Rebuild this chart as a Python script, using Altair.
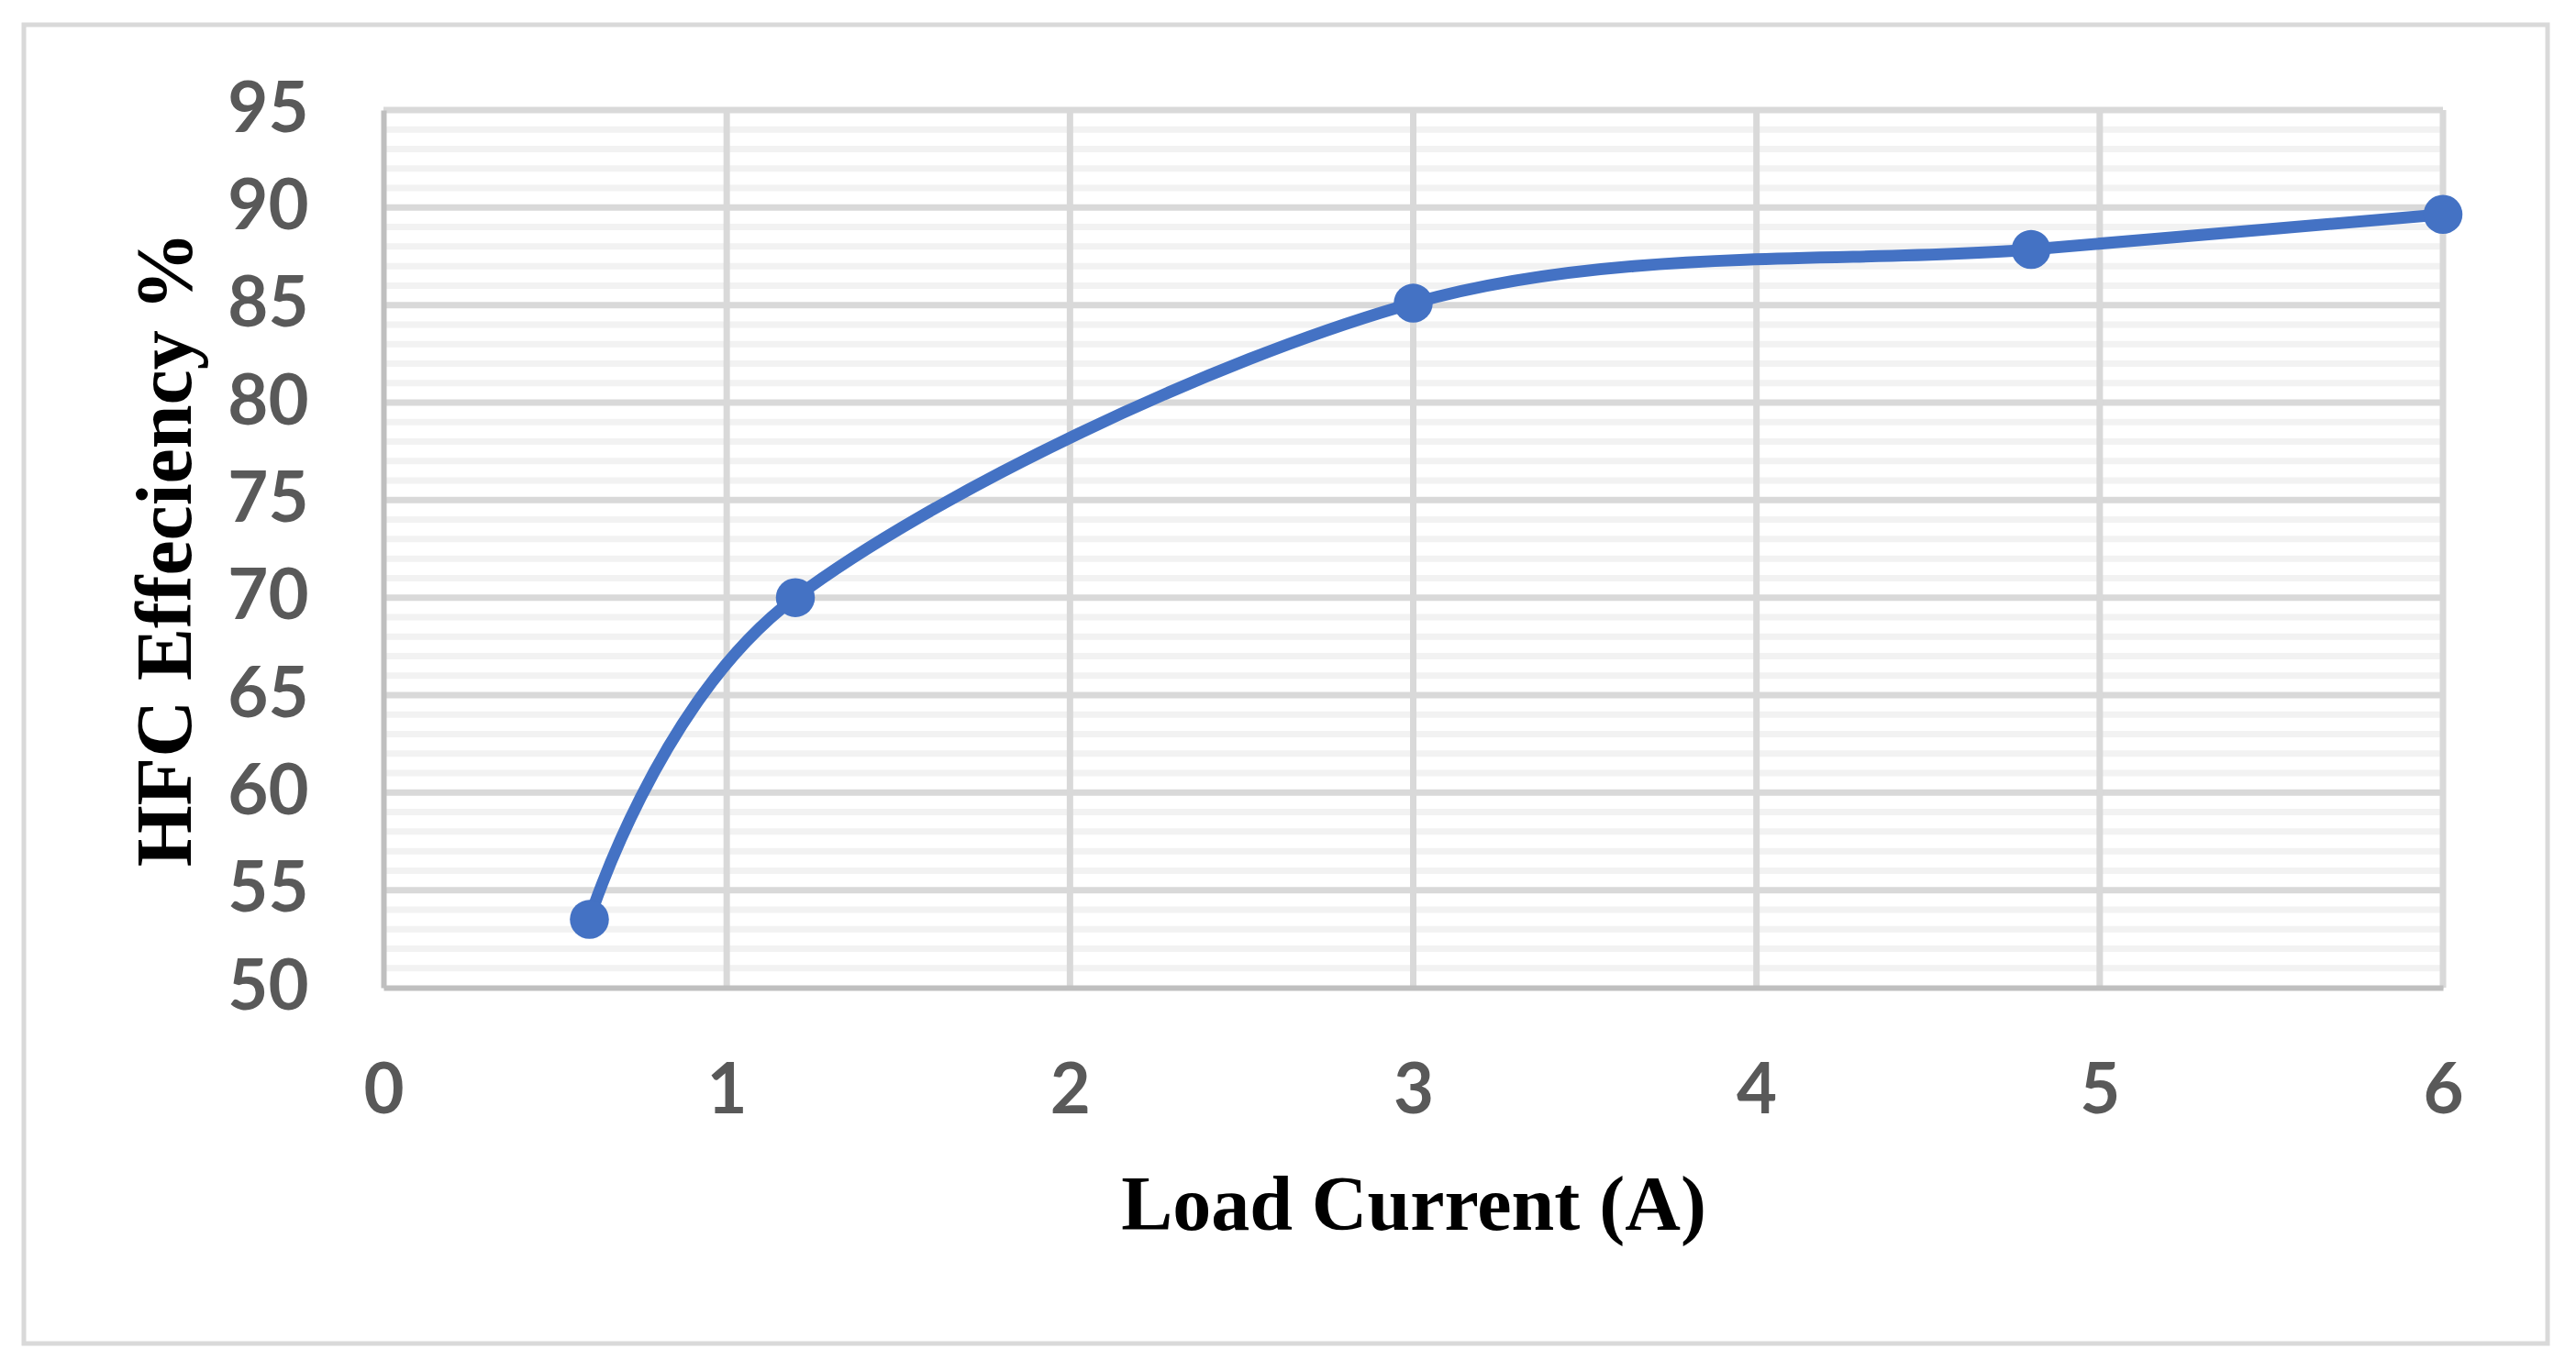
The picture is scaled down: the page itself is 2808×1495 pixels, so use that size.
import altair as alt
import pandas as pd

# Data
load_current = [0.6, 1.2, 3.0, 4.8, 6.0]
efficiency = [53.5, 70.0, 85.1, 87.85, 89.65]

x_ticks = [0, 1, 2, 3, 4, 5, 6]
y_ticks = [50, 55, 60, 65, 70, 75, 80, 85, 90, 95]
y_minor = [v for v in range(51, 95) if v % 5 != 0]

W, H = 2245, 957

df = pd.DataFrame({"x": load_current, "y": efficiency})
minor_df = pd.DataFrame({"x": [0] * len(y_minor), "y": y_minor})
ymajor_df = pd.DataFrame({"x": [0] * 9, "y": [v for v in y_ticks if v != 50]})
xmajor_df = pd.DataFrame({"x": [v for v in x_ticks if v != 0], "y": [50] * 6})

xscale = alt.Scale(domain=[0, 6], nice=False, zero=False)
yscale = alt.Scale(domain=[50, 95], nice=False, zero=False)

label_font = "Lato"
title_font = "Liberation Serif"

x_axis = alt.Axis(
    values=x_ticks, grid=False, ticks=False, domainColor="#bfbfbf", domainWidth=6,
    labelFont=label_font, labelFontSize=76, labelFontWeight="bold", labelColor="#595959",
    labelPadding=76, labelFlush=False, labelOverlap=False,
    title="Load Current (A)", titleFont=title_font, titleFontSize=84,
    titleFontWeight="bold", titleColor="#000000", titlePadding=46, zindex=1,
)
y_axis = alt.Axis(
    values=y_ticks, grid=False, ticks=False, domainColor="#bfbfbf", domainWidth=6,
    labelFont=label_font, labelFontSize=76, labelFontWeight="bold", labelColor="#595959",
    labelPadding=82, labelFlush=False, labelOverlap=False,
    title="HFC Effeciency %", titleFont=title_font, titleFontSize=86,
    titleFontWeight="bold", titleColor="#000000", titlePadding=22, zindex=1,
)

X = alt.X("x:Q", scale=xscale, axis=x_axis)
Y = alt.Y("y:Q", scale=yscale, axis=y_axis)

minor = alt.Chart(minor_df).mark_rule(color="#f2f2f2", strokeWidth=7).encode(y=Y)
ymajor = alt.Chart(ymajor_df).mark_rule(color="#d9d9d9", strokeWidth=7).encode(y=Y)
xmajor = alt.Chart(xmajor_df).mark_rule(color="#d9d9d9", strokeWidth=7).encode(x=X)

line = alt.Chart(df).mark_line(
    color="#4472c4", strokeWidth=13, interpolate="cardinal", tension=0
).encode(x=X, y=Y)
points = alt.Chart(df).mark_circle(color="#4472c4", opacity=1, size=1810).encode(x=X, y=Y)

border = alt.Chart(pd.DataFrame({"a": [0]})).mark_rect(
    fill=None, stroke="#d9d9d9", strokeWidth=5, clip=False
).encode(
    x=alt.value(-392), x2=alt.value(2359), y=alt.value(-93), y2=alt.value(1345)
)

chart = alt.layer(minor, ymajor, xmajor, line, points, border).properties(
    width=W, height=H,
    autosize=alt.AutoSizeParams(type="none"),
    padding={"left": 410, "top": 112, "right": 130, "bottom": 400},
).configure_view(stroke=None).configure(background="white")

chart.save("out.html", embed_options={"renderer": "svg", "actions": False})
